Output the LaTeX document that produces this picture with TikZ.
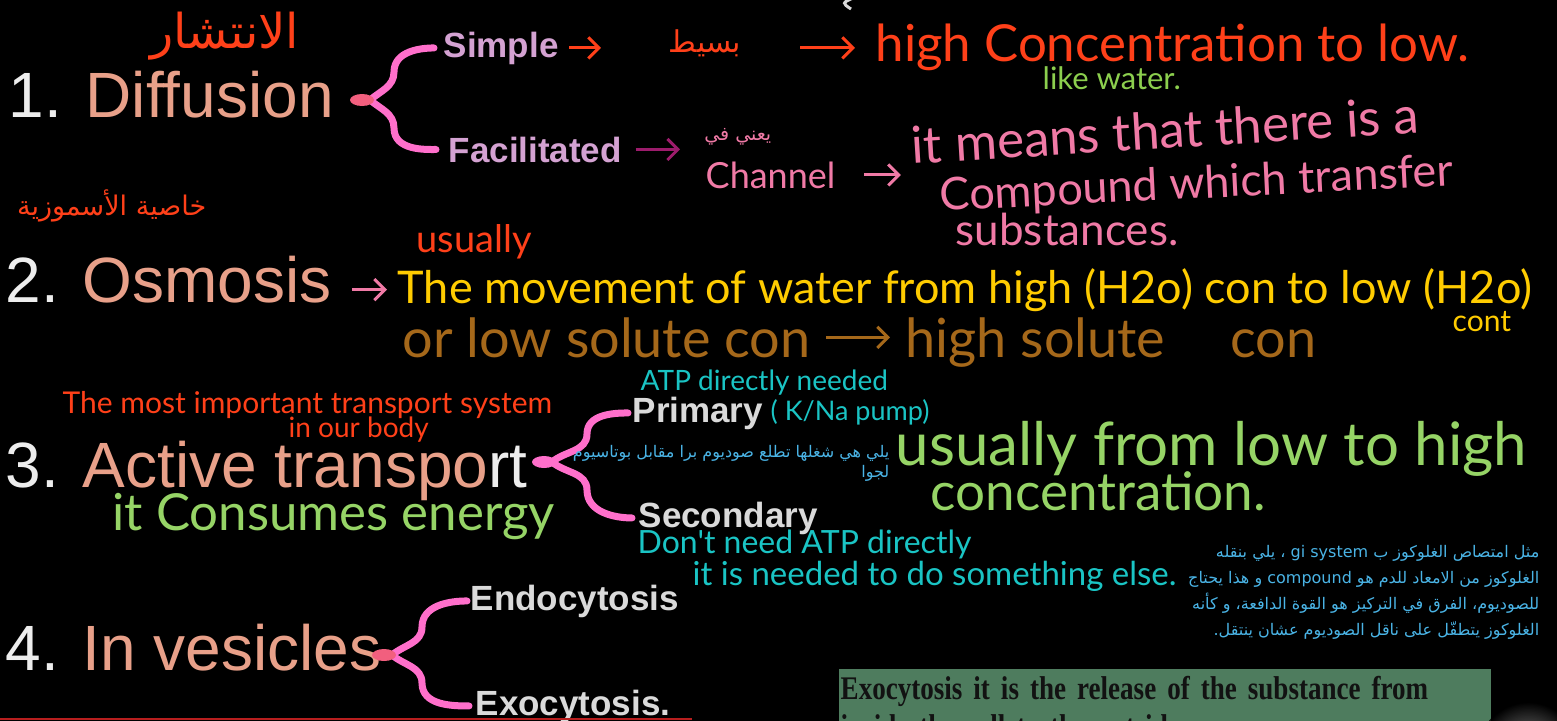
\documentclass[tikz,border=0pt]{standalone}
\usepackage{fontspec}
\setmainfont{Liberation Sans}
\newfontfamily\handfont{Lato}
\newfontfamily\arabicfont[Script=Arabic]{DejaVu Sans}
\newfontfamily\boxfont[FakeStretch=0.82, WordSpace=0.6]{Liberation Serif}
\TeXXeTstate=1
\usetikzlibrary{arrows.meta}

\newlength{\du}
\setlength{\du}{0.1mm}

\definecolor{numcolor}{rgb}{0.930000, 0.930000, 0.930000}
\definecolor{headcolor}{rgb}{0.910000, 0.627000, 0.537000}
\definecolor{subpurple}{rgb}{0.831000, 0.635000, 0.824000}
\definecolor{subgray}{rgb}{0.855000, 0.855000, 0.855000}
\definecolor{bracecolor}{rgb}{1.000000, 0.435000, 0.796000}
\definecolor{tipcolor}{rgb}{0.949000, 0.373000, 0.494000}
\definecolor{handred}{rgb}{1.000000, 0.251000, 0.098000}
\definecolor{handgreen}{rgb}{0.549000, 0.812000, 0.306000}
\definecolor{handpink}{rgb}{0.941000, 0.478000, 0.651000}
\definecolor{handplum}{rgb}{0.612000, 0.110000, 0.424000}
\definecolor{handyellow}{rgb}{1.000000, 0.800000, 0.000000}
\definecolor{handbrown}{rgb}{0.647000, 0.408000, 0.102000}
\definecolor{handcyan}{rgb}{0.102000, 0.769000, 0.769000}
\definecolor{handlime}{rgb}{0.588000, 0.831000, 0.400000}
\definecolor{typeblue}{rgb}{0.290000, 0.706000, 0.902000}
\definecolor{boxgreen}{rgb}{0.306000, 0.486000, 0.369000}
\definecolor{boxtext}{rgb}{0.070000, 0.070000, 0.070000}
\definecolor{redline}{rgb}{0.720000, 0.118000, 0.118000}

\tikzset{
  head/.style={anchor=base west, inner sep=0pt, text=headcolor, font=\fontsize{64\du}{70\du}\selectfont},
  sub/.style={anchor=base west, inner sep=0pt, font=\bfseries\fontsize{35\du}{40\du}\selectfont},
  hand/.style={anchor=base west, inner sep=0pt, font=\handfont\fontsize{#1\du}{#1\du}\selectfont},
  arhand/.style={anchor=base east, inner sep=0pt, font=\arabicfont\fontsize{#1\du}{#1\du}\selectfont},
  artype/.style={anchor=north east, inner sep=0pt, align=right, text=typeblue, font=\arabicfont\fontsize{16\du}{#1\du}\selectfont},
  brace/.style={draw=bracecolor, line width=7\du, line cap=round},
  bracetip/.style={x radius=12\du, y radius=6\du},
  pen/.style={line width=3\du, -{Straight Barb[length=3pt,width=6pt]}},
}

\begin{document}
\begin{tikzpicture}
\pgftransformxscale{1.000000}
\pgftransformyscale{-1.000000}
\fill[black] (0\du,0\du) rectangle (1557\du,721\du);
\useasboundingbox (0\du,0\du) rectangle (1557\du,721\du);
\clip (0\du,0\du) rectangle (1557\du,721\du);
% headings
\node[head] (diffusion) at (8\du,117\du) {{\color{numcolor}1.} Diffusion};
\node[head] (osmosis) at (5\du,302\du) {{\color{numcolor}2.} Osmosis};
\node[head] (active) at (5\du,487\du) {{\color{numcolor}3.} Active transpo{\color{numcolor}rt}};
\node[head] (vesicles) at (5\du,670\du) {{\color{numcolor}4.} In vesicles};
\node[sub, text=subpurple] (simple) at (443\du,57\du) {Simple};
\node[sub, text=subpurple] (facil) at (448\du,162\du) {Facilitated};
\node[sub, text=subgray] (primary) at (632\du,422\du) {Primary};
\node[sub, text=subgray] (second) at (638\du,527\du) {Secondary};
\node[sub, text=subgray] (endo) at (470\du,610\du) {Endocytosis};
\node[sub, text=subgray] (exo) at (475\du,715\du) {Exocytosis.};
% braces
\coordinate (difftip) at (370\du,100\du);
\coordinate (diffup) at (394\du,72\du);
\coordinate (diffdown) at (394\du,128\du);
\draw[brace, shorten <=9\du] (simple.west) to[out=180,in=-90] (diffup) to[out=90,in=-40] (difftip);
\draw[brace, shorten >=12\du] (difftip) to[out=40,in=-90] (diffdown) to[out=90,in=180] (facil.west);
\fill[tipcolor] (362\du,100\du) ellipse[bracetip];
\coordinate (acttip) at (552\du,462\du);
\coordinate (actup) at (587\du,434\du);
\coordinate (actdown) at (587\du,490\du);
\draw[brace, shorten <=4\du] (primary.west) to[out=180,in=-90] (actup) to[out=90,in=-40] (acttip);
\draw[brace, shorten >=6\du] (acttip) to[out=40,in=-90] (actdown) to[out=90,in=180] (second.west);
\fill[bracecolor] (544\du,462\du) ellipse[bracetip];
\coordinate (vestip) at (392\du,655\du);
\coordinate (vesup) at (422\du,627\du);
\coordinate (vesdown) at (422\du,683\du);
\draw[brace, shorten <=3\du] (endo.west) to[out=180,in=-90] (vesup) to[out=90,in=-40] (vestip);
\draw[brace, shorten >=6\du] (vestip) to[out=40,in=-90] (vesdown) to[out=90,in=180] (exo.west);
\fill[tipcolor] (384\du,655\du) ellipse[bracetip];
% diffusion notes
\node[arhand=48, text=handred] (intishar) at (300\du,48\du) {\beginR الانتشار\endR};
\node[arhand=30, text=handred] (basit) at (742\du,52\du) {\beginR بسيط\endR};
\node[hand=51, text=handred] (high) at (875\du,62\du) {high Concentration to low.};
\node[hand=31, text=handgreen] (water) at (1042\du,90\du) {like water.};
\draw[pen, handred, shorten <=10\du, shorten >=67\du] (simple.east) -- (simple.east -| basit.west);
\draw[pen, handred, shorten <=58\du, shorten >=20\du] (basit.east |- high.west) -- (high.west);
\node[arhand=19, text=handpink] (yani) at (772\du,140\du) {\beginR يعني في\endR};
\node[hand=36, text=handpink] (channel) at (705\du,188\du) {Channel};
\node[hand=51, text=handpink, rotate=3.5] (means) at (912\du,164\du) {it means that there is a};
\node[hand=45, text=handpink, rotate=2.8] (compound) at (940\du,211\du) {Compound which transfer};
\node[hand=44, text=handpink] (substances) at (955\du,245\du) {substances.};
\draw[pen, handplum, shorten <=13\du, shorten >=25\du] (facil.east) -- (facil.east -| channel.west);
\draw[pen, handpink, shorten <=28\du, shorten >=10\du] (channel.east) -- (channel.east -| means.west);
% osmosis notes
\node[arhand=27, text=handred] (khassia) at (207\du,215\du) {\beginR خاصية الأسموزية\endR};
\node[hand=38, text=handred] (usually) at (416\du,252\du) {usually};
\node[hand=45, text=handyellow] (movement) at (397\du,303\du) {The movement of water from high (H2o) con to low (H2o)};
\node[hand=30, text=handyellow] (cont) at (1452\du,331\du) {cont};
\node[hand=54, text=handbrown] (lowsolute) at (402\du,357\du) {or low solute con};
\node[hand=54, text=handbrown] (highsolute) at (905\du,357\du) {high solute\hspace{65\du}con};
\draw[pen, handpink, shorten <=20\du, shorten >=10\du] (osmosis.east |- movement.west) -- (movement.west);
\draw[pen, handbrown, shorten <=15\du, shorten >=15\du] (lowsolute.east) -- (lowsolute.east -| highsolute.west);
% active transport notes
\node[hand=30, text=handred] (important) at (62\du,413\du) {The most important transport system};
\node[hand=28, text=handred] (body) at (288\du,437\du) {in our body};
\node[hand=51, text=handlime] (energy) at (112\du,530\du) {it Consumes energy};
\node[hand=28, text=handcyan] (atp) at (640\du,390\du) {ATP directly needed};
\node[hand=27, text=handcyan] (pump) at (770\du,420\du) {( K/Na pump)};
\node[artype=20] (pumpnote) at (890\du,445\du) {\beginR يلي هي شغلها تطلع صوديوم برا مقابل بوتاسيوم\endR\\ \beginR لجوا\endR};
\node[hand=32, text=handcyan] (noatp) at (637\du,553\du) {Don't need ATP directly};
\node[hand=33, text=handcyan] (needed) at (692\du,585\du) {it is needed to do something else.};
\node[hand=60, text=handlime] (lowhigh) at (895\du,465\du) {usually from low to high};
\node[hand=53, text=handlime] (concentration) at (930\du,510\du) {concentration.};
\node[artype=26] (glucose) at (1540\du,545\du) {\beginR مثل امتصاص الغلوكوز ب \beginL gi system\endL{} ، يلي بنقله\endR\\
  \beginR الغلوكوز من الامعاد للدم هو \beginL compound\endL{} و هذا يحتاج\endR\\
  \beginR للصوديوم، الفرق في التركيز هو القوة الدافعة، و كأنه\endR\\
  \beginR الغلوكوز يتطفّل على ناقل الصوديوم عشان ينتقل.\endR};
% vesicles note
\node[anchor=north west, fill=boxgreen, text=boxtext, inner xsep=2\du, inner ysep=8\du, minimum width=652\du, text width=648\du, align=left, font=\boxfont\bfseries\fontsize{33\du}{38\du}\selectfont] (exonote) at (838\du,668\du) {Exocytosis it is the release of the substance from\\ inside the cell to the outside.};
\shade[inner color=white!70!black, outer color=black, opacity=0.8] (1528\du,752\du) circle (50\du);
\draw[redline, line width=2\du] (0\du,719\du) -- (692\du,719\du);
\draw[white!85!black, line width=3\du] (853\du,-2\du) .. controls (842\du,3\du) .. (851\du,9\du);
\end{tikzpicture}
\end{document}
